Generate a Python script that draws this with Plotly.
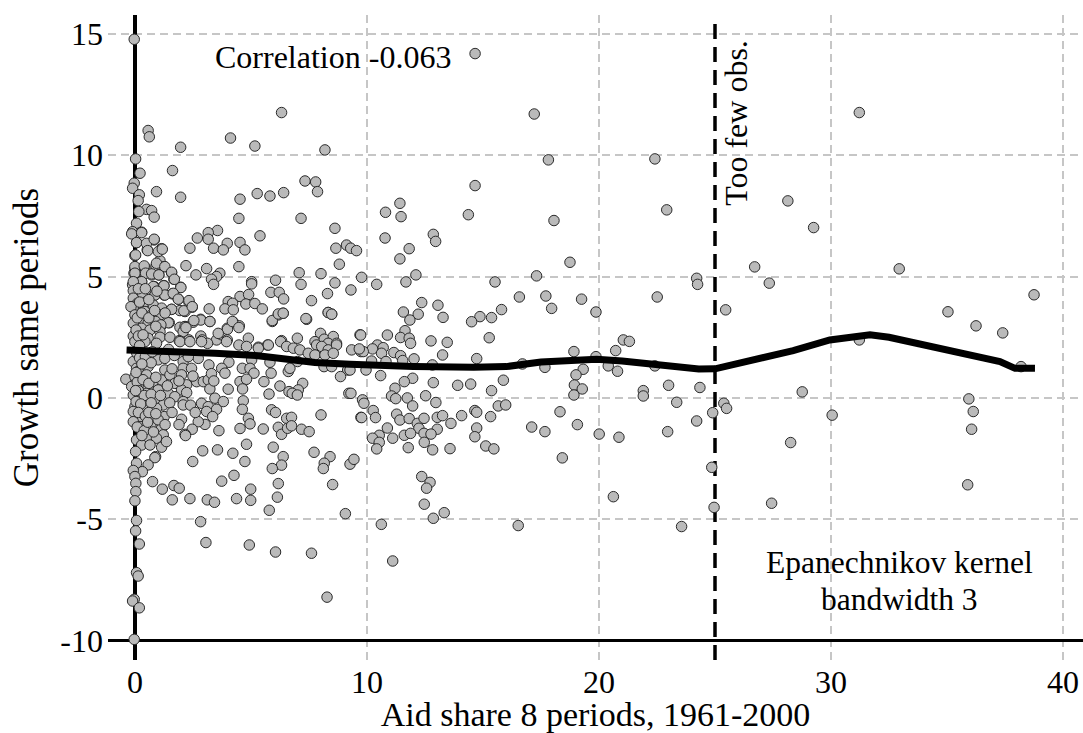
import plotly.graph_objects as go

obs_top = [(14.66,14.19),(17.21,11.70),(17.82,9.81),(22.41,9.85),(14.66,8.75),
(-0.03,14.78),(6.32,11.76),(0.57,11.02),(0.62,10.76),(4.12,10.71),(1.97,10.33),(5.17,10.38),(8.19,10.22),(0.03,9.85),(1.62,9.37),(0.22,9.26),
(7.33,8.94),(7.79,8.90),(7.87,8.50),(-0.03,8.85),(-0.1,8.64),(0.93,8.50),(0.19,8.37),(1.97,8.27),(0.14,8.13),(5.27,8.42),(5.82,8.32),(6.41,8.46),(4.53,8.19),
(0.50,7.77),(0.72,7.72),(0.83,7.45),(0.17,7.68),(4.48,7.40),(7.16,7.40),(0.07,7.20),(8.62,6.99),(-0.1,6.85),(0.29,6.83),(3.56,6.90),(3.16,6.81),(2.69,6.59),(3.16,6.54),(5.39,6.68),
(0.83,6.51),(0.07,6.40),(3.98,6.37),(4.53,6.41),(2.37,6.17),(3.39,6.17),(3.81,6.10),(4.74,6.10),(1.15,6.15),(0.53,6.10),(8.66,6.17),(9.12,6.30),(9.30,6.17),(9.55,6.07),
(0.0,5.87),(1.08,5.66),(2.20,5.45),(8.81,5.51),(4.48,5.41),(3.09,5.33),(2.63,5.07),(3.66,5.14),(3.52,5.0),(3.30,4.89),(3.39,4.68),(0.43,5.37),(0.91,5.44),(1.26,5.41),(0.0,5.34),(1.58,5.16),(0.72,5.07),(1.03,5.07),(0.43,5.14),(-0.04,5.14),(1.68,4.89),(0.29,4.79),(0.0,4.89),
(7.08,5.16),(8.02,5.12),(6.06,4.85),(7.16,4.68),(8.62,4.74),(5.03,4.79),(5.03,4.70),(5.86,4.35),(6.22,4.35),(6.41,4.08),(8.30,4.30),(7.61,4.01),
(1.97,4.56),(0.83,4.59),(1.25,4.63),(-0.1,4.66),(0.33,4.31),(0.86,4.24),(1.26,4.24),(1.61,4.29),(1.87,4.07),(4.53,4.18),(4.90,4.26),(4.02,3.97),(4.21,3.90),(4.78,3.87),(5.17,3.89),(5.49,3.67),(2.33,3.94),(2.47,3.74),(3.20,3.67),(3.88,3.67),(4.24,3.63),(1.58,3.65),(1.94,3.60),(2.16,3.56),
(6.39,3.49),(6.18,3.42),(5.92,3.15),(8.33,3.52),(8.48,3.45),(7.40,3.24),(2.83,3.24),(3.23,3.15),(2.51,3.12),(2.16,2.94),(4.24,3.12),(4.50,2.97),(3.98,2.87),(1.48,3.10),(1.15,3.0)]

obs_dense_upper = [(-0.14,6.76),(0.29,6.81),(0.07,6.40),(0.50,6.37),(0.83,6.54),(0.55,6.07),(1.01,6.03),(1.18,6.13),(0.03,5.89),(0.0,5.41),(0.40,5.44),(0.93,5.55),(1.29,5.41),(0.0,5.14),(0.46,5.14),(0.72,5.11),(1.03,5.07),(1.58,5.18),(1.70,4.89),(0.29,4.79),(-0.07,4.79),(0.79,4.59),(1.25,4.62),(1.98,4.55),(-0.07,4.42),(0.32,4.31),(0.86,4.24),(1.29,4.24),(1.65,4.31),(1.87,4.07),(-0.07,4.11),(0.11,3.90),(0.50,3.97),(0.79,3.83),(1.15,3.70),(1.58,3.65),(2.11,3.59),(2.33,4.01),(2.47,3.76),(-0.07,3.74),(-0.17,3.76),(0.0,3.42),(0.43,3.56),(0.72,3.42),(1.08,3.42),(0.22,3.21),(0.57,3.08),(0.89,3.15),(1.44,3.10),(1.12,3.01),(-0.07,3.08),(0.29,2.87),(0.65,2.80),(1.08,2.73),(-0.07,2.55),(0.22,2.46),(0.57,2.46),(1.08,2.50),(1.51,2.50),(1.94,2.91),(2.16,2.94),(2.08,2.73),(1.91,2.36),(2.33,2.39),(2.84,3.21),(3.23,3.15),(2.54,3.19),(2.84,2.55),(2.90,2.39),(3.52,2.39),(3.74,2.60),(3.99,2.83),(3.98,2.39),(4.20,3.15),(4.48,2.90),(4.89,2.46),(3.59,2.66),(3.13,2.25),(5.92,3.19),(6.18,3.46),(6.39,3.49),(7.37,3.27),(8.33,3.52),(8.48,3.45),(6.32,2.36),(7.0,2.46),(8.0,2.66),(7.76,2.32),(8.16,2.42),(8.55,2.53),(8.33,2.25),(8.69,2.25),(9.70,2.60),(5.72,2.18),(5.32,2.09)]

obs_dense_lower = [(0.0,2.32),(0.43,2.32),(0.93,2.25),(1.94,2.32),(2.37,2.32),(2.87,2.32),(3.95,2.32),(4.48,2.18),(4.81,2.12),(5.32,2.05),(5.75,2.18),(6.28,2.32),(6.54,2.12),(6.83,2.05),(7.11,1.98),(7.47,1.84),(7.83,2.18),(8.05,2.12),(8.33,1.98),(8.69,2.18),(9.34,1.98),(9.74,1.91),(7.76,1.77),(8.19,1.77),(8.55,1.84),
(-0.07,1.50),(0.07,1.22),(0.57,1.29),(1.0,1.57),(1.29,1.63),(1.29,1.15),(2.08,1.50),(2.08,1.22),(2.44,1.22),(2.73,1.63),(3.19,1.36),(4.05,1.47),(3.74,1.22),(3.88,1.02),(4.63,1.22),(5.03,1.57),(4.96,1.22),(5.13,1.02),(5.82,1.47),(5.87,1.02),(6.61,1.09),(6.68,1.22),(7.01,1.50),(8.15,1.29),(8.48,1.29),(9.17,1.15),(8.86,0.88),
(-0.39,0.77),(0.0,0.88),(0.14,1.09),(0.50,0.95),(0.79,0.67),(1.15,0.74),(1.51,0.95),(1.72,0.60),(2.01,0.95),(2.23,0.54),(2.66,0.67),(2.95,0.67),(3.16,0.74),(4.02,0.36),(4.67,0.67),(4.53,0.67),(4.81,0.77),(4.64,0.37),(5.56,0.67),(6.25,0.49),(5.78,0.16),(7.23,0.60),(7.04,0.33),(6.64,0.26),(6.78,0.19),(7.0,0.12),(9.22,0.19),
(-0.14,0.47),(0.22,0.54),(0.57,0.40),(1.0,0.33),(1.44,0.19),(2.01,0.33),(3.23,0.37),(-0.07,0.12),(0.22,0.05),(0.50,0.19),(0.86,-0.08),(1.22,-0.29),(1.72,0.05),(2.23,0.22),(2.08,-0.15),(2.08,-0.29),(2.87,-0.22),(3.16,-0.36),(3.45,-0.01),(3.81,-0.15),(3.52,-0.47),(4.67,-0.12),(4.63,-0.47),
(0.0,-0.36),(-0.07,-0.56),(0.50,-0.43),(0.93,-0.43),(1.26,-0.77),(0.72,-0.91),(0.29,-0.84),(-0.07,-0.98),(2.01,-0.88),(3.09,-0.56),(3.35,-0.77),(3.02,-1.09),(2.73,-0.98),(2.47,-1.29),(2.16,-1.50),(2.18,-1.55),(3.62,-1.35),(4.53,-1.26),(4.89,-0.84),(4.96,-1.07),(5.53,-1.28),(5.89,-0.49),(6.06,-0.60),(6.54,-0.84),(6.75,-0.80),(8.02,-0.70),(6.18,-1.21),(6.32,-1.50),(6.58,-1.25),(6.75,-1.15),(7.18,-1.29),(7.51,-1.39),(9.74,-0.80),
(0.22,-1.18),(0.69,-1.18),(1.15,-1.25),(1.22,-1.52),(0.57,-1.62),(0.93,-1.66),(0.07,-1.73),(0.29,-1.94),(0.65,-1.94),(1.15,-2.03),(1.36,-1.80),(0.89,-2.42),(0.03,-2.21),
(0.08,1.85),(0.2,1.65),(0.45,1.7),(0.7,1.45),(0.1,0.65),(0.35,0.75),(0.6,0.6),(0.15,0.3),(0.4,0.1),(0.7,0.15),(0.05,-0.15),(0.25,-0.25),(0.7,-0.2),(0.15,-0.6),(0.45,-0.75),(0.1,-1.2),(0.4,-1.35),(0.8,-1.4),(0.05,2.8),(0.15,2.55),(0.35,2.6),(0.1,3.3),(0.3,3.5),(0.2,3.95),(0.15,4.5),(0.45,4.5),(0.6,3.3),(0.9,2.95),
(1.6,1.2),(1.9,0.7),(2.5,0.9),(1.4,0.5),(1.1,0.1),(1.5,-0.2),(1.0,-0.9),(1.6,-0.6),(1.9,-1.1),(2.4,-0.3),(2.6,-0.6),(1.3,-1.1),(0.55,-1.0),(0.3,-1.55),(3.3,1.0),(3.4,0.7),(2.3,1.7),(1.7,1.75),(1.45,2.0),(2.2,2.9),(1.3,3.5),(0.85,3.6),(0.6,4.05),(0.95,4.4),(0.2,2.15),(0.75,1.9),(0.05,1.05),(0.3,1.4),(0.9,0.85),(0.03,0.3),(0.6,-0.6),(0.9,-0.65)]

obs_low = [(2.92,-2.18),(2.49,-2.62),(3.56,-2.14),(4.22,-2.28),(4.81,-1.91),(4.74,-2.62),(5.96,-2.03),(6.39,-2.42),(6.32,-2.77),(5.92,-2.91),(7.72,-2.24),(8.41,-2.42),(8.16,-2.69),(8.12,-2.91),(9.27,-2.73),(9.44,-2.53),(0.86,-2.46),(0.57,-2.76),(0.07,-2.69),(0.32,-3.04),(-0.07,-2.99),(0.0,-3.24),(0.04,-3.52),(0.04,-3.86),(0.0,-4.24),(0.76,-3.45),(1.18,-3.76),(1.68,-3.61),(1.91,-3.72),(1.61,-4.20),(2.37,-4.15),(3.12,-4.20),(3.43,-4.30),(3.74,-3.43),(4.27,-3.19),(4.38,-4.15),(4.99,-3.76),(4.99,-4.22),(6.18,-3.53),(6.14,-4.09),(5.79,-4.63),(8.52,-3.57),(9.07,-4.77),(0.07,-5.05),(0.03,-5.48),(0.19,-6.02),(2.83,-5.10),(3.06,-5.96),(4.93,-6.06),(6.06,-6.35),(7.61,-6.40),(8.28,-8.21),(0.07,-7.20),(0.14,-7.34),(-0.03,-8.30),(-0.1,-8.37),(0.19,-8.65),(-0.03,-9.95)]

obs_mid = [(11.42,8.02),(10.80,7.65),(11.47,7.47),(14.37,7.55),(18.06,7.31),(22.92,7.75),(10.78,6.59),(12.86,6.74),(12.96,6.45),(11.82,6.15),(11.42,5.73),(18.75,5.59),(9.77,4.97),(12.11,5.07),(11.68,4.78),(10.42,4.68),(15.52,4.78),(17.31,5.03),(24.21,4.93),(24.25,4.68),(9.31,4.45),(12.36,3.93),(13.06,3.82),(11.57,3.54),(12.21,3.45),(11.85,3.21),(13.28,3.32),(16.57,4.16),(17.71,4.20),(19.25,4.07),(17.96,3.69),(19.87,3.54),(22.51,4.16),(15.80,3.64),(15.37,3.31),(14.87,3.35),(14.51,3.14),(15.27,2.48),(11.64,2.77),(9.73,2.59),(10.88,2.59),(11.45,2.49),(11.82,2.46),(11.88,2.25),(12.76,2.35),(13.46,2.29),(10.45,2.18),(10.70,2.07),(10.24,2.02),(9.84,1.91),(9.67,2.02),(10.63,1.84),(11.16,1.87),(11.45,1.74),(13.26,1.77),(14.73,1.62),(11.54,1.54),(12.03,1.61),(10.82,1.50),(10.2,1.52),(18.92,1.91),(20.72,1.95),(21.05,2.39),(21.31,2.33),(19.87,1.70),(12.82,1.36),(16.70,1.40),(17.67,1.26),(9.96,1.15),(20.40,1.32),(22.41,1.32),(20.80,1.10),(19.32,1.18),(19.01,0.95),(10.59,0.92),(9.27,1.15),(11.97,0.81),(11.61,0.67),(12.86,0.63),(13.91,0.52),(14.47,0.57),(15.88,0.73),(11.21,0.40),(15.37,0.30),(12.53,0.09),(11.06,0.08),(11.24,-0.03),(11.74,0.0),(9.31,0.19),(18.94,0.53),(19.28,0.37),(18.92,0.12),(21.91,0.30),(21.91,0.08),(23.0,0.52),(24.35,0.43),(23.35,-0.18),(12.97,-0.19),(9.81,-0.08),(9.87,-0.22),(11.97,-0.33),(15.66,-0.33),(15.98,-0.29),(10.27,-0.52),(10.37,-0.81),(9.77,-0.81),(11.28,-0.67),(11.42,-0.91),(11.82,-0.85),(12.17,-1.05),(12.46,-0.84),(13.03,-0.80),(13.26,-0.73),(13.62,-1.05),(14.08,-0.73),(14.65,-0.52),(14.73,-0.59),(15.33,-0.77),(18.32,-0.57),(24.90,-0.61),(10.88,-1.24),(12.24,-1.25),(13.03,-1.29),(14.73,-1.24),(17.10,-1.20),(17.67,-1.39),(19.07,-1.10),(24.21,-0.95),(22.96,-1.39),(20.01,-1.49),(20.86,-1.62),(10.53,-1.54),(10.24,-1.66),(11.11,-1.66),(11.61,-1.54),(11.88,-1.46),(12.46,-1.46),(12.76,-1.49),(14.65,-1.60),(10.53,-1.83),(10.42,-2.10),(12.47,-1.83),(11.78,-2.05),(12.83,-2.14),(13.58,-2.09),(15.12,-1.98),(15.47,-2.10),(18.42,-2.47),(24.86,-2.86),(12.36,-3.24),(12.72,-3.48),(12.57,-3.72),(20.62,-4.07),(12.47,-4.38),(13.33,-4.73),(12.86,-4.96),(24.96,-4.51),(10.62,-5.21),(16.52,-5.26),(23.56,-5.30),(11.11,-6.72)]

obs_right = [(31.22,11.76),(28.14,8.12),(29.25,7.02),(26.71,5.40),(32.94,5.32),(27.34,4.73),(25.46,3.63),(38.75,4.25),(35.04,3.55),(36.25,2.97),(37.40,2.68),(31.22,2.39),(38.19,1.29),(28.76,0.25),(35.94,-0.04),(25.38,-0.22),(25.5,-0.43),(36.13,-0.56),(30.05,-0.71),(36.06,-1.29),(28.26,-1.84),(35.89,-3.58),(27.44,-4.34)]

all_obs = obs_top + obs_dense_upper + obs_dense_lower + obs_low + obs_mid + obs_right
aid_share = [p[0] for p in all_obs]
growth = [p[1] for p in all_obs]

kernel_x = [-0.36,1.0,3.45,5.3,7.76,9.27,9.9,12.0,14.6,16.0,17.5,19.0,19.9,21.0,22.0,24.3,25.0,26.94,28.37,29.95,31.22,31.68,32.5,34.98,37.28,37.93,38.79]
kernel_y = [1.98,1.95,1.84,1.74,1.46,1.39,1.36,1.30,1.26,1.29,1.48,1.58,1.59,1.52,1.43,1.19,1.20,1.59,1.95,2.39,2.57,2.60,2.50,1.98,1.50,1.22,1.22]

x_ticks = [0, 10, 20, 30, 40]
y_ticks = [-10, -5, 0, 5, 10, 15]
y_tick_labels = ["-10", "-5", "0", "5", "10", "15"]
x_limits = [-1.16, 40.86]
y_limits = [-10.8, 15.78]
baseline = -10
cutoff = 25

FONT = "Liberation Serif"
TICK_FS = 32
NOTE_FS = 32

fig = go.Figure()
fig.add_trace(go.Scatter(x=x_limits, y=[baseline, baseline], mode="lines", showlegend=False,
    line=dict(color="black", width=3)))
fig.add_trace(go.Scatter(x=[cutoff, cutoff], y=[y_limits[0], 15.55], mode="lines", showlegend=False,
    line=dict(color="black", width=3.5, dash="15px,8px")))
fig.add_trace(go.Scatter(x=aid_share, y=growth, mode="markers", showlegend=False,
    marker=dict(size=10.5, color="#bababa", line=dict(color="#2a2a2a", width=1))))
fig.add_trace(go.Scatter(x=kernel_x, y=kernel_y, mode="lines", showlegend=False,
    line=dict(color="black", width=7, shape="linear")))

ann = dict(showarrow=False, font=dict(family=FONT, size=NOTE_FS, color="black"))
fig.add_annotation(x=8.53, y=14.05, text="Correlation -0.063", **ann)
fig.add_annotation(x=25.9, y=11.33, text="Too few obs.", textangle=-90, **ann)
fig.add_annotation(x=32.97, y=-6.8, text="Epanechnikov kernel", font=dict(family=FONT, size=31.5, color="black"), showarrow=False)
fig.add_annotation(x=32.97, y=-8.32, text="bandwidth 3", font=dict(family=FONT, size=31.5, color="black"), showarrow=False)

grid = dict(showgrid=True, gridcolor="#c6c6c6", gridwidth=2, griddash="8px,5px", ticks="", showline=False)
fig.update_layout(
    width=1083, height=733, autosize=False,
    paper_bgcolor="white", plot_bgcolor="white",
    margin=dict(l=108, r=0, t=15, b=73),
    font=dict(family=FONT, size=TICK_FS, color="black"),
    xaxis=dict(range=x_limits, tickvals=x_ticks, zeroline=True, zerolinecolor="black", zerolinewidth=3.5,
        automargin=False,
        title=dict(text="Aid share 8 periods, 1961-2000", standoff=0, font=dict(size=34)),
        tickfont=dict(size=TICK_FS), **grid),
    yaxis=dict(range=y_limits, tickvals=y_ticks, ticktext=y_tick_labels, zeroline=False,
        automargin=False, ticklabelstandoff=4,
        title=dict(text="Growth same periods", standoff=11, font=dict(size=35)),
        tickfont=dict(size=TICK_FS), **grid),
)
fig.write_html("out.html", config={"displayModeBar": False},
    post_script="document.body.style.margin='0';document.documentElement.style.overflow='hidden';document.body.style.overflow='hidden';")
